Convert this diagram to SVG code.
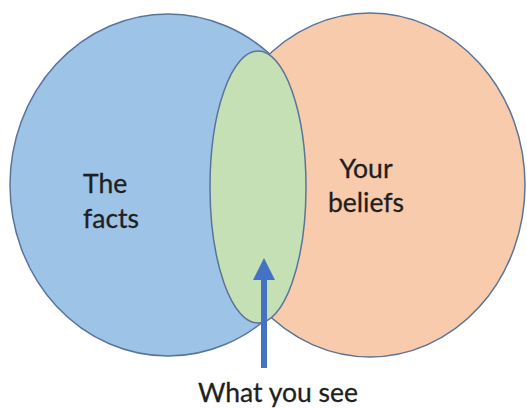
<svg xmlns="http://www.w3.org/2000/svg" width="527" height="408" viewBox="0 0 527 408">
<defs>
<style>
.set{stroke:#5a7599;stroke-width:1.5}
.lbl{font-family:Lato,"Open Sans","Liberation Sans",sans-serif;fill:#1f1f1f;font-size:26.5px;stroke:#1f1f1f;stroke-width:0.3}
</style>
<marker id="ah" viewBox="0 0 22 22" refX="0" refY="11" markerWidth="22" markerHeight="22" markerUnits="userSpaceOnUse" orient="auto">
<path d="M0,0 L22,11 L0,22 Z" fill="#4472c4"/>
</marker>
</defs>
<rect width="527" height="408" fill="#ffffff"/>
<g id="facts">
<ellipse class="set" cx="168" cy="185" rx="158" ry="171" fill="#9dc3e6"/>
<text class="lbl" x="83" y="193">The</text>
<text class="lbl" x="83" y="228">facts</text>
</g>
<g id="beliefs">
<ellipse class="set" cx="370" cy="185" rx="155" ry="172" fill="#f8cbad"/>
<text class="lbl" x="366" y="178" text-anchor="middle">Your</text>
<text class="lbl" x="366" y="212" text-anchor="middle">beliefs</text>
</g>
<g id="see">
<ellipse class="set" cx="258" cy="187" rx="48" ry="136" fill="#c5e0b4"/>
</g>
<g id="connectors">
<line x1="264" y1="368" x2="264" y2="280" stroke="#4472c4" stroke-width="6" marker-end="url(#ah)"/>
</g>
<g id="what-you-see">
<text class="lbl" x="278" y="402" text-anchor="middle">What you see</text>
</g>
</svg>
